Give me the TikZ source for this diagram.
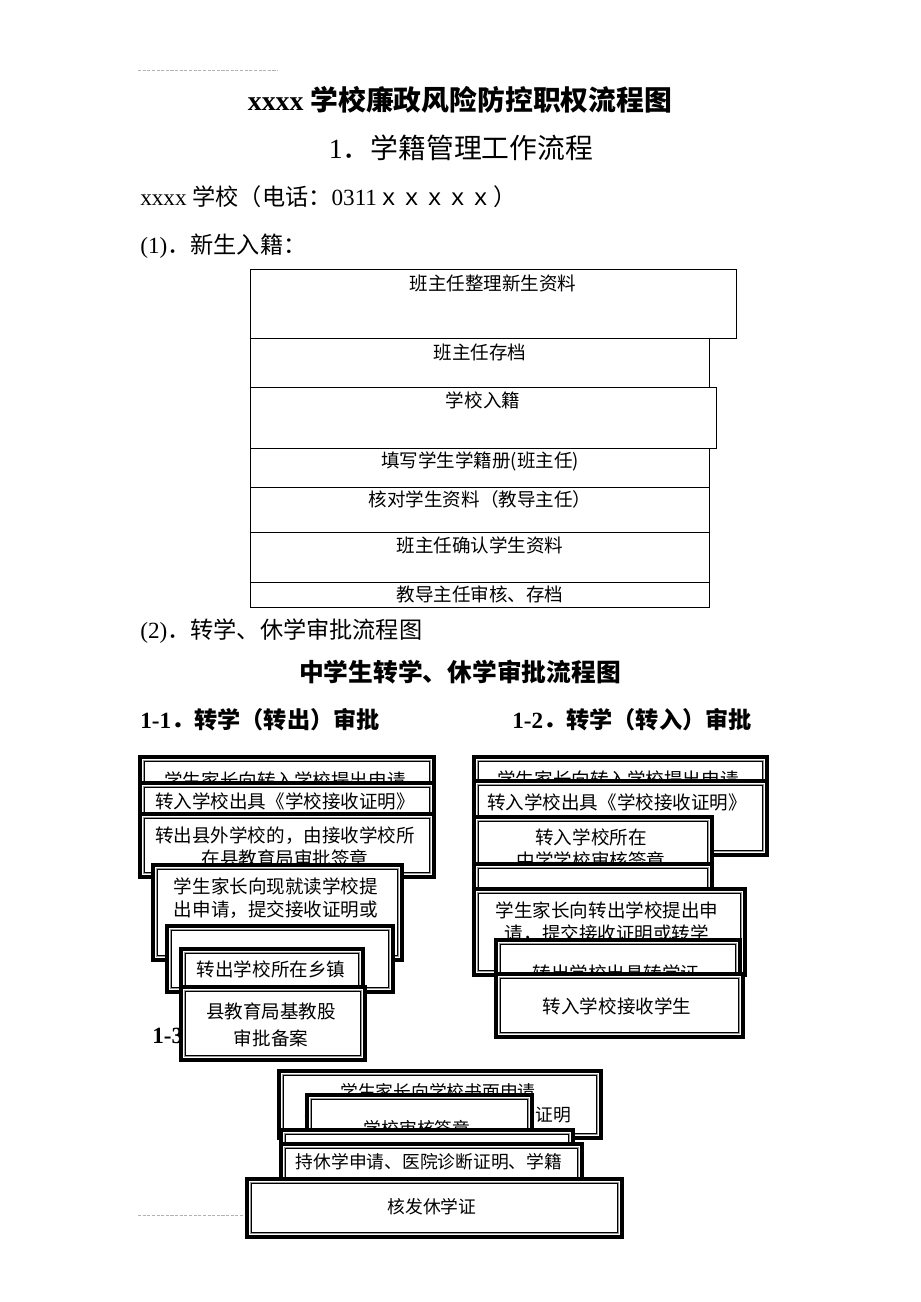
\documentclass[tikz,border=0pt]{standalone}
\usepackage{fontspec}
\setmainfont{Liberation Serif}
\newfontfamily\cjk{Noto Sans CJK SC}
\usepackage{tikz}
\usetikzlibrary{positioning,calc}
\tikzset{>=latex}
\newlength\pxu
\setlength\pxu{0.647pt}

\tikzset{
  flat/.style={draw,fill=white,line width=0.6pt,anchor=north west,inner sep=0pt},
  frame/.style={draw,fill=white,line width=2.6pt,anchor=north west,inner sep=0pt,
    path picture={
      \draw[line width=0.6pt,black!40] ([xshift=2.2pt,yshift=-2.2pt]path picture bounding box.north west) rectangle ([xshift=-2.2pt,yshift=2.2pt]path picture bounding box.south east);
      \draw[line width=0.6pt] ([xshift=3pt,yshift=-3pt]path picture bounding box.north west) rectangle ([xshift=-3pt,yshift=3pt]path picture bounding box.south east);
    }},
  txt/.style={inner sep=0pt,align=center,font=\cjk\fontsize{12}{15}\selectfont},
  small/.style={inner sep=0pt,align=center,font=\cjk\fontsize{11.5}{15}\selectfont},
  head/.style={inner sep=0pt,anchor=west,font=\fontsize{15}{18}\selectfont},
  bhead/.style={head,font=\fontsize{15}{18}\selectfont\bfseries},
  rule/.style={gray!60,line width=0.4pt,dash pattern=on 2pt off 1pt},
}

\begin{document}
\begin{tikzpicture}[x=1\pxu,y=-1\pxu]
\useasboundingbox (0,0) rectangle (920,1302);

% page rules
\coordinate (ra) at (138,70);
\coordinate (rb) at (278,70);
\coordinate (rc) at (138,1215);
\coordinate (rd) at (300,1215);
\draw[rule] (ra) -- (rb);
\draw[rule] (rc) -- (rd);

% headings
\node [inner sep=0pt,font=\fontsize{18}{22}\selectfont\bfseries] (title) at (460,100) {xxxx {\cjk\bfseries 学校廉政风险防控职权流程图}};
\node [inner sep=0pt,font=\fontsize{18}{22}\selectfont] (sec1) at (461,148) {1{\cjk ．学籍管理工作流程}};
\node [head] (phone) at (140,197) {xxxx {\cjk 学校（电话：}0311{\cjk ｘｘｘｘｘ）}};
\node [head] (h1) at (140,246) {(1){\cjk ．新生入籍：}};
\node [head] (h2) at (140,631) {(2){\cjk ．转学、休学审批流程图}};
\node [inner sep=0pt,font=\cjk\fontsize{16}{20}\selectfont\bfseries] (sec2) at (460,672) {中学生转学、休学审批流程图};
\node [bhead] (h11) at (140,720) {1-1{\cjk\bfseries ．转学（转出）审批}};
\node [bhead] (h12) at (512,720) {1-2{\cjk\bfseries ．转学（转入）审批}};
\node [bhead] (h13) at (152,1035) {1-3{\cjk\bfseries ．休学审批}};

% (1) new students
\node [flat,line width=0.9pt,minimum width=486\pxu,minimum height=69\pxu] (s1) at (250,269) {};
\node [txt] (s1t) at (493,283) {班主任整理新生资料};
\node [flat,minimum width=459\pxu,minimum height=49\pxu] (s2) at (250,338) {};
\node [txt] (s2t) at (480,352) {班主任存档};
\node [flat,minimum width=466\pxu,minimum height=61\pxu] (s3) at (250,387) {};
\node [txt] (s3t) at (483,400) {学校入籍};
\node [flat,minimum width=459\pxu,minimum height=39\pxu] (s4) at (250,448) {};
\node [txt] (s4t) at (480,461) {填写学生学籍册(班主任)};
\node [flat,minimum width=459\pxu,minimum height=45\pxu] (s5) at (250,487) {};
\node [txt] (s5t) at (480,499) {核对学生资料（教导主任）};
\node [flat,minimum width=459\pxu,minimum height=50\pxu] (s6) at (250,532) {};
\node [txt] (s6t) at (480,545) {班主任确认学生资料};
\node [flat,minimum width=459\pxu,minimum height=25\pxu] (s7) at (250,582) {};
\node [txt] (s7t) at (480,594) {教导主任审核、存档};

% 1-1 transfer out
\node [frame,minimum width=294\pxu,minimum height=48\pxu] (l1) at (138,755) {};
\node [txt] (l1t) at (285,780) {学生家长向转入学校提出申请};
\node [frame,minimum width=294\pxu,minimum height=52\pxu] (l2) at (138,781) {};
\node [txt] (l2t) at (285,801) {转入学校出具《学校接收证明》};
\node [frame,minimum width=294\pxu,minimum height=63\pxu] (l3) at (138,812) {};
\node [txt] (l3t) at (285,846.5) {转出县外学校的，由接收学校所\\在县教育局审批签章};
\node [frame,minimum width=249\pxu,minimum height=95\pxu] (l4) at (151,863) {};
\node [txt] (l4t) at (276,898.5) {学生家长向现就读学校提\\出申请，提交接收证明或};
\node [frame,minimum width=226\pxu,minimum height=66\pxu] (l5) at (165,924) {};
\node [frame,minimum width=182\pxu,minimum height=51\pxu] (l6) at (179,947) {};
\node [txt] (l6t) at (271,969) {转出学校所在乡镇};
\node [frame,minimum width=184\pxu,minimum height=73\pxu] (l7) at (179,985) {};
\node [txt] (l7t) at (271,1025) {县教育局基教股\\[2pt]审批备案};

% 1-2 transfer in
\node [frame,minimum width=293\pxu,minimum height=43\pxu] (r1) at (472,755) {};
\node [txt] (r1t) at (618,779) {学生家长向转入学校提出申请};
\node [frame,minimum width=293\pxu,minimum height=74\pxu] (r2) at (472,779) {};
\node [txt] (r2t) at (617,802) {转入学校出具《学校接收证明》};
\node [frame,minimum width=238\pxu,minimum height=63\pxu] (r3) at (472,815) {};
\node [txt] (r3t) at (591,848.5) {转入学校所在\\中学学校审核签章};
\node [frame,minimum width=238\pxu,minimum height=41\pxu] (r4) at (472,862) {};
\node [frame,minimum width=271\pxu,minimum height=86\pxu] (r5) at (472,887) {};
\node [txt] (r5t) at (607,922) {学生家长向转出学校提出申\\请，提交接收证明或转学};
\node [frame,minimum width=244\pxu,minimum height=60\pxu] (r6) at (494,938) {};
\node [txt] (r6t) at (616,973) {转出学校出具转学证};
\node [frame,minimum width=247\pxu,minimum height=63\pxu] (r7) at (494,972) {};
\node [txt] (r7t) at (617,1006) {转入学校接收学生};

% 1-3 suspension
\node [frame,minimum width=322\pxu,minimum height=67\pxu] (b1) at (277,1069) {};
\node [small] (b1t) at (438,1103.5) {学生家长向学校书面申请\\并提交休学申请书、医院诊断证明};
\node [frame,minimum width=225\pxu,minimum height=40\pxu] (b2) at (305,1093) {};
\node [small] (b2t) at (417,1129) {学校审核签章};
\node [frame,minimum width=292\pxu,minimum height=30\pxu] (b3) at (279,1128) {};
\node [frame,minimum width=301\pxu,minimum height=46\pxu] (b4) at (279,1142) {};
\node [small] (b4t) at (429,1162) {持休学申请、医院诊断证明、学籍};
\node [frame,minimum width=375\pxu,minimum height=58\pxu] (b5) at (245,1177) {};
\node [small] (b5t) at (432,1207) {核发休学证};

\end{tikzpicture}
\end{document}
